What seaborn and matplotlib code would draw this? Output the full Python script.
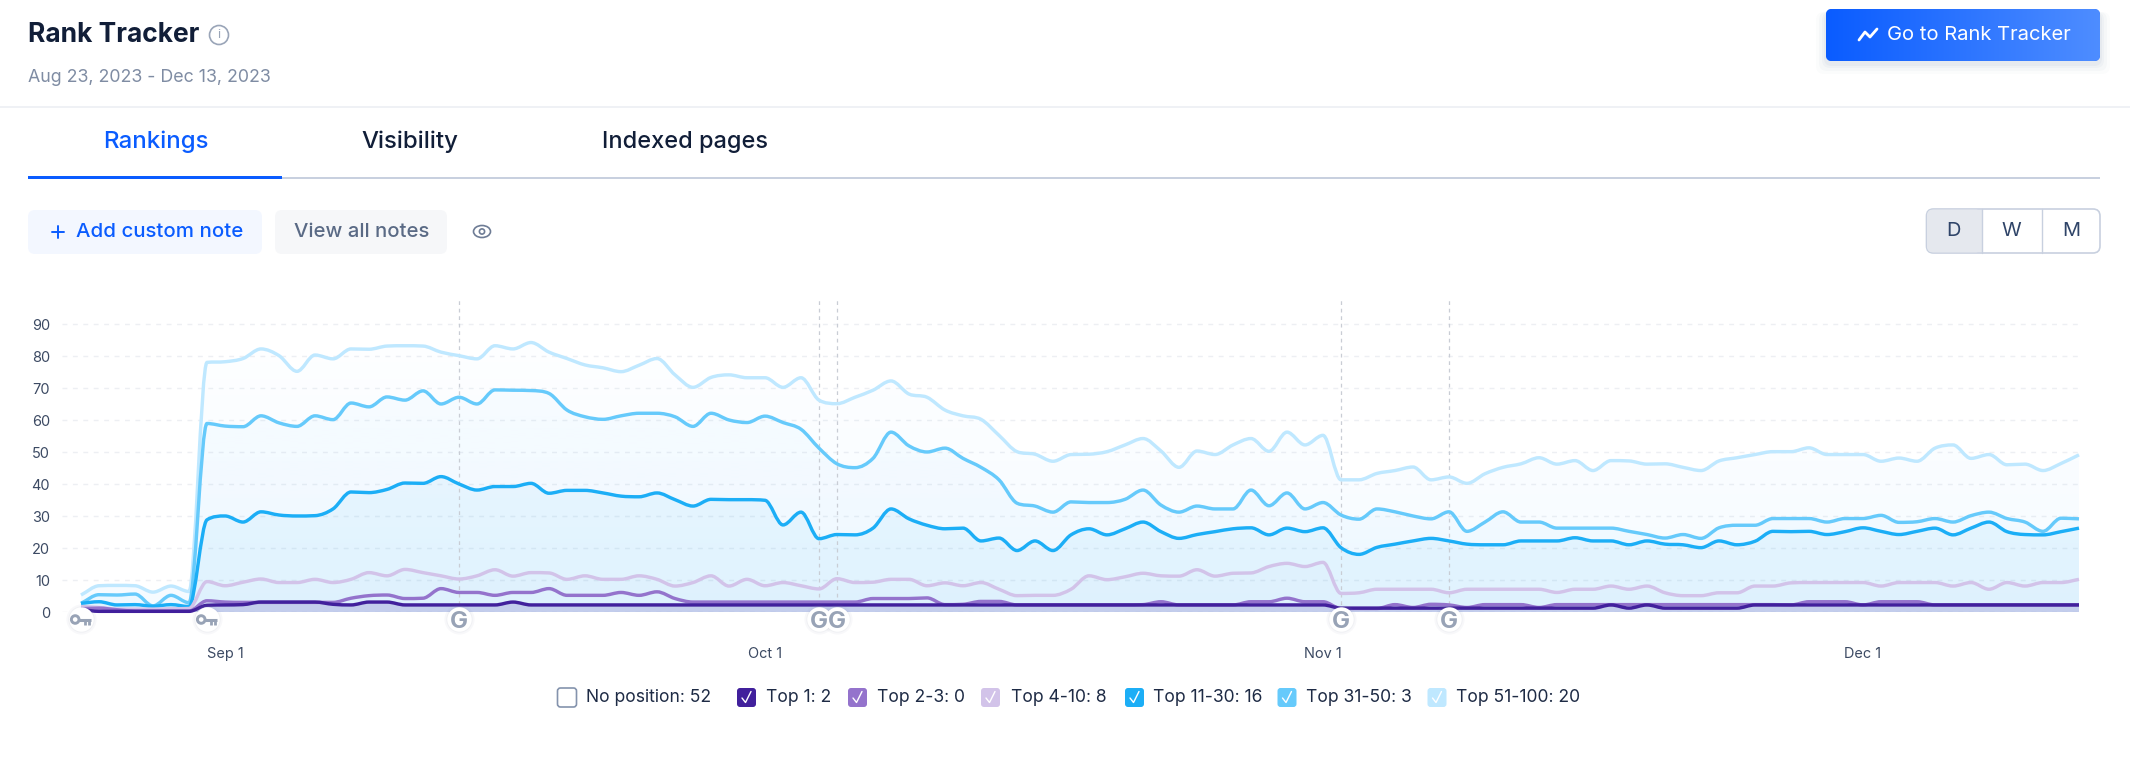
import numpy as np
import pandas as pd
import seaborn as sns
import matplotlib
matplotlib.use("Agg")
import matplotlib.pyplot as plt
import matplotlib.dates as mdates
from matplotlib.patches import FancyBboxPatch, Circle, Rectangle
from matplotlib.path import Path
from matplotlib.patheffects import AbstractPathEffect
from matplotlib.colors import to_rgb

sns.set_theme(style="white")
plt.rcParams['font.family'] = ['Inter', 'DejaVu Sans']

# ---------- data ----------
start_date = "2023-08-24"
top_51_100 = [5.4,8.3,8.4,8.3,6.3,8.2,6.5,78.1,78.3,79.3,82.3,80.2,75.3,80.4,79.2,82.3,82.2,83.2,83.3,
 83.2,81.3,80.2,79.2,83.3,82.3,84.3,81.3,79.3,77.3,76.4,75.2,77.2,79.3,74.2,70.3,73.4,74.2,73.3,
 73.3,70.3,73.3,66.3,65.2,67.2,69.4,72.3,68.2,67.2,63.2,61.4,60.3,55.3,50.2,49.4,47.2,49.3,49.4,
 50.2,52.3,54.3,50.4,45.3,50.4,49.3,52.3,54.3,50.3,56.3,52.3,55.3,41.4,41.4,43.4,44.3,45.4,41.4,
 42.3,40.3,43.3,45.3,46.4,48.3,46.3,47.4,44.3,47.4,47.3,46.3,46.4,45.3,44.3,47.3,48.3,49.3,50.2,
 50.2,51.4,49.3,49.3,49.3,47.2,48.2,47.2,51.3,52.3,48.1,49.3,46.1,46.3,44.3,46.5,49.2]
top_31_50 = [2.8,5.5,5.4,5.7,2.0,5.3,3.0,59.0,58.2,58.0,61.4,59.2,58.1,61.4,60.2,65.4,64.2,67.3,66.3,
 69.2,65.1,67.2,65.1,69.5,69.4,69.3,68.4,63.2,61.1,60.3,61.4,62.2,62.2,61.1,58.1,62.2,60.1,59.3,
 61.3,59.3,57.2,51.3,46.4,45.2,48.1,56.3,52.0,50.1,51.3,48.1,45.3,41.4,34.1,33.2,31.3,34.5,34.3,
 34.3,35.3,38.2,33.5,31.3,33.2,32.3,32.3,38.2,33.3,37.3,32.3,34.3,30.4,29.1,32.3,31.4,30.1,29.2,
 31.4,25.3,28.2,31.4,28.2,28.2,26.3,26.3,26.3,26.3,25.3,24.3,23.2,24.3,23.1,26.4,27.2,27.2,29.3,
 29.3,29.3,28.2,29.3,29.3,30.3,28.1,28.3,29.3,28.2,30.2,31.3,29.3,28.2,25.3,29.4,29.2]
top_11_30 = [2.8,3.3,2.3,2.4,1.9,2.4,1.8,28.9,30.1,28.2,31.4,30.4,30.1,30.2,32.3,37.6,37.4,38.4,40.4,
 40.3,42.4,40.1,38.2,39.3,39.3,40.3,37.2,38.1,38.1,37.3,36.3,36.1,37.3,35.2,33.2,35.3,35.2,35.2,
 35.0,27.3,31.3,23.0,24.3,24.2,26.3,32.3,29.2,27.2,26.1,26.3,22.3,23.2,19.3,22.3,19.3,24.2,26.1,
 24.2,26.1,28.2,25.2,23.1,24.3,25.2,26.1,26.4,24.2,26.3,25.2,26.4,20.2,18.1,20.3,21.3,22.3,23.1,
 22.3,21.3,21.1,21.1,22.3,22.3,22.3,23.3,22.3,22.3,21.1,22.3,21.3,21.1,20.2,22.3,21.1,22.2,25.3,
 25.2,25.3,24.3,25.2,26.4,25.3,24.3,25.3,26.3,24.2,26.3,28.2,25.2,24.3,24.2,25.2,26.3]
top_4_10 = [1.8,1.5,1.0,1.0,1.0,1.1,1.2,9.6,8.3,9.4,10.4,9.3,9.3,10.3,9.3,10.3,12.4,11.4,13.4,
 12.4,11.4,10.4,11.4,13.3,11.3,12.4,12.3,10.3,11.4,10.3,10.3,11.4,10.3,8.2,9.3,11.4,8.2,10.3,
 8.3,9.3,8.3,7.3,10.5,9.3,9.4,10.3,10.3,8.3,9.2,8.3,9.3,7.2,5.2,5.3,5.3,7.2,11.4,
 10.2,11.1,12.2,11.4,11.3,13.3,11.3,12.2,12.3,14.3,15.3,14.3,15.6,5.9,6.1,7.2,7.2,7.2,7.2,
 6.1,7.2,7.2,7.2,7.2,7.2,6.2,7.2,7.2,8.2,7.2,8.2,6.1,5.2,5.2,6.1,6.1,8.2,8.2,
 9.2,9.3,9.3,9.3,9.3,8.2,9.3,9.3,9.3,8.2,9.3,7.2,9.3,8.2,9.3,9.3,10.3]
top_2_3 = [1.1,1.3,0.8,0.4,0.4,0.4,0.4,3.6,3.2,3.1,3.1,3.1,3.1,3.1,3.1,4.4,5.2,5.4,4.3,
 4.4,7.4,6.2,6.2,5.3,6.2,6.2,7.4,5.3,5.3,5.3,6.2,5.3,6.4,4.3,3.2,3.2,3.2,3.2,
 3.2,3.2,3.2,3.2,3.2,3.2,4.3,4.3,4.3,4.5,2.4,2.5,3.4,3.4,2.3,2.3,2.3,2.3,2.3,
 2.3,2.3,2.4,3.3,2.3,2.3,2.3,2.3,3.3,3.3,4.4,3.3,3.3,1.2,1.2,1.2,2.4,1.5,2.5,
 2.3,1.5,2.4,2.4,2.4,1.5,2.4,2.4,2.4,2.4,2.4,2.4,2.4,2.4,2.4,2.4,2.4,2.4,2.4,
 2.3,3.3,3.3,3.3,2.3,3.3,3.3,3.3,2.3,2.3,2.3,2.3,2.3,2.3,2.3,2.3,2.3]
top_1 = [0.9,0.3,0.3,0.3,0.3,0.3,0.3,2.2,2.3,2.4,3.2,3.2,3.2,3.2,2.5,2.3,3.2,3.2,2.3,
 2.3,2.3,2.3,2.3,2.3,3.2,2.3,2.3,2.3,2.3,2.3,2.3,2.3,2.3,2.3,2.3,2.3,2.3,2.3,
 2.3,2.3,2.3,2.3,2.3,2.3,2.3,2.3,2.3,2.3,2.3,2.3,2.3,2.3,2.3,2.3,2.3,2.3,2.3,
 2.3,2.3,2.3,2.3,2.3,2.3,2.3,2.3,2.3,2.3,2.3,2.3,2.3,1.3,1.3,1.3,1.3,1.3,1.3,
 1.3,1.3,1.3,1.3,1.3,1.3,1.3,1.3,1.3,2.3,1.3,2.3,1.3,1.3,1.3,1.3,1.3,2.3,2.3,
 2.3,2.3,2.3,2.3,2.3,2.3,2.3,2.3,2.3,2.3,2.3,2.3,2.3,2.3,2.3,2.3,2.3]

series_names = ["Top 51-100", "Top 31-50", "Top 11-30", "Top 4-10", "Top 2-3", "Top 1"]
series_values = [top_51_100, top_31_50, top_11_30, top_4_10, top_2_3, top_1]
series_colors = ["#BFE8FF", "#66CAFB", "#1CAEF6", "#D2C3E9", "#9473CC", "#41209C"]

legend_labels = ["No position: 52", "Top 1: 2", "Top 2-3: 0", "Top 4-10: 8",
                 "Top 11-30: 16", "Top 31-50: 3", "Top 51-100: 20"]
y_ticks = [0, 10, 20, 30, 40, 50, 60, 70, 80, 90]
x_tick_dates = ["2023-09-01", "2023-10-01", "2023-11-01", "2023-12-01"]
x_tick_labels = ["Sep 1", "Oct 1", "Nov 1", "Dec 1"]
google_dates = ["2023-09-14", "2023-10-04", "2023-10-05", "2023-11-02", "2023-11-08"]
key_dates = ["2023-08-24", "2023-08-31"]

dates = pd.date_range(start_date, periods=len(top_1), freq="D")
long_df = pd.concat([pd.DataFrame({"date": dates, "rank": v, "group": n})
                     for n, v in zip(series_names, series_values)], ignore_index=True)


class SmoothCurve(AbstractPathEffect):
    """Render a line's own vertices as a limited cubic curve (the chart's line style)."""

    def draw_path(self, renderer, gc, tpath, affine, rgbFace=None):
        v = tpath.vertices
        if len(v) < 3:
            renderer.draw_path(gc, tpath, affine, rgbFace)
            return
        dx = np.diff(v[:, 0])
        s = np.diff(v[:, 1]) / dx
        m = np.zeros(len(v))
        a, b = s[:-1], s[1:]
        same = a * b > 0
        lim = 3 * np.minimum(np.abs(a), np.abs(b))
        m[1:-1][same] = (np.sign(a) * np.minimum(np.abs(a + b) / 2, lim))[same]
        m[0], m[-1] = s[0], s[-1]
        verts, codes = [v[0]], [Path.MOVETO]
        for i in range(len(v) - 1):
            h = dx[i] / 3
            verts += [(v[i, 0] + h, v[i, 1] + m[i] * h),
                      (v[i + 1, 0] - h, v[i + 1, 1] - m[i + 1] * h), v[i + 1]]
            codes += [Path.CURVE4] * 3
        gc0 = renderer.new_gc()
        gc0.copy_properties(gc)
        renderer.draw_path(gc0, Path(np.array(verts), codes, _interpolation_steps=1), affine, None)
        gc0.restore()


# ---------- figure ----------
W, H = 2130, 758
fig = plt.figure(figsize=(W / 100, H / 100), dpi=100, facecolor="white")
PX = 0.72

ax_l, ax_r, ax_t, ax_b = 62, 2079, 297, 612.3
ax = fig.add_axes([ax_l / W, 1 - ax_b / H, (ax_r - ax_l) / W, (ax_b - ax_t) / H])
ax.set_facecolor("none")
x_end = mdates.date2num(dates[-1])
x_per_px = 1 / 18.0
x_lim = (x_end - (ax_r - ax_l) * x_per_px, x_end)
y_lim = (0, (ax_b - ax_t) / 3.2)


def grad_fill(values, color, a_top, a_bottom, z):
    poly = ax.fill_between(dates, values, 0, facecolor="none", edgecolor="none")
    n = 256
    img = np.zeros((n, 1, 4))
    img[..., :3] = to_rgb(color)
    img[:, 0, 3] = np.linspace(a_bottom, a_top, n)
    im = ax.imshow(img, extent=[*x_lim, *y_lim], origin="lower", aspect="auto",
                   zorder=z, interpolation="bilinear")
    im.set_clip_path(poly.get_paths()[0], ax.transData)


grad_fill(top_51_100, "#7CCBFF", 0.0, 0.075, 1.0)
grad_fill(top_31_50, "#4FBEFF", 0.02, 0.05, 1.1)
grad_fill(top_11_30, "#1CAEF6", 0.06, 0.06, 1.2)
grad_fill(top_4_10, "#9FB0EE", 0.03, 0.03, 1.3)
grad_fill(top_1, "#41209C", 0.17, 0.17, 1.4)

sns.lineplot(data=long_df, x="date", y="rank", hue="group", hue_order=series_names,
             palette=dict(zip(series_names, series_colors)), estimator=None,
             legend=False, linewidth=3.4 * PX, ax=ax, zorder=3)
for ln in ax.get_lines():
    ln.set_solid_joinstyle("round")
    ln.set_solid_capstyle("butt")
    ln.set_clip_on(False)
    ln.set_path_effects([SmoothCurve()])

ax.set_xlim(*x_lim)
ax.set_ylim(*y_lim)
ax.set_xlabel("")
ax.set_ylabel("")
for s in ax.spines.values():
    s.set_visible(False)
ax.set_yticks(y_ticks)
ax.set_xticks([mdates.date2num(pd.Timestamp(d)) for d in x_tick_dates])
ax.set_xticklabels(x_tick_labels)
ax.tick_params(axis="y", length=0, pad=12 * PX, labelsize=14.5 * PX, labelcolor="#3C4A63")
ax.tick_params(axis="x", length=0, pad=35 * PX, labelsize=14.5 * PX, labelcolor="#3C4A63")
ax.grid(axis="y", color="#EDEFF3", linewidth=1.0, linestyle=(0, (3.5, 4)), zorder=0)
ax.grid(axis="x", visible=False)
ax.set_axisbelow(True)

for d in google_dates:
    ax.axvline(pd.Timestamp(d), color="#C9CDD5", linewidth=0.9, linestyle=(0, (3, 3)), zorder=2)

marker_y = -2.2
marker_dates = [pd.Timestamp(d) for d in key_dates + google_dates]
ax.scatter(marker_dates, [marker_y] * len(marker_dates), s=470, c="#8C98AD", alpha=0.06,
           linewidths=0, clip_on=False, zorder=4)
ax.scatter(marker_dates, [marker_y] * len(marker_dates), s=360, c="#8C98AD", alpha=0.08,
           linewidths=0, clip_on=False, zorder=4.1)
ax.scatter(marker_dates, [marker_y] * len(marker_dates), s=310, c="white",
           linewidths=0, clip_on=False, zorder=5)
for d in google_dates:
    ax.text(pd.Timestamp(d), marker_y, "G", ha="center", va="center_baseline", color="#98A3B6",
            fontsize=24 * PX, fontweight="bold", clip_on=False, zorder=6)

# ---------- page furniture in pixel space ----------
ui = fig.add_axes([0, 0, 1, 1], zorder=10)
ui.set_xlim(0, W)
ui.set_ylim(H, 0)
ui.axis("off")
ui.patch.set_alpha(0)


def rbox(x0, y0, x1, y1, fc, ec="none", r=7, lw=1.0, z=2, alpha=None):
    p = FancyBboxPatch((x0 + r, y0 + r), x1 - x0 - 2 * r, y1 - y0 - 2 * r,
                       boxstyle=f"round,pad={r},rounding_size={r}", fc=fc, ec=ec, lw=lw,
                       zorder=z, alpha=alpha)
    ui.add_patch(p)
    return p


def txt(x, y, s, size, color, ha="left", weight="normal", z=5):
    return ui.text(x, y, s, fontsize=size * PX, color=color, ha=ha, va="center",
                   fontweight=weight, zorder=z)


# key icons over the white markers
for d in key_dates:
    cx = 80.7 + 18 * (pd.Timestamp(d) - dates[0]).days
    cy = 620.5
    ui.add_patch(Circle((cx - 5.5, cy - 1), 3.8, fc="none", ec="#98A3B6", lw=2.1))
    ui.plot([cx - 2, cx + 10], [cy - 1, cy - 1], color="#98A3B6", lw=2.2, solid_capstyle="butt")
    ui.plot([cx + 4, cx + 4], [cy - 1, cy + 4], color="#98A3B6", lw=2.0, solid_capstyle="butt")
    ui.plot([cx + 8.5, cx + 8.5], [cy - 1, cy + 4], color="#98A3B6", lw=2.0, solid_capstyle="butt")

# header
txt(28.5, 35, "Rank Tracker", 26.4, "#111E38", weight="bold")
ui.add_patch(Circle((219, 35), 9.5, fc="none", ec="#9AA5B8", lw=1.2))
txt(219, 35, "i", 13, "#9AA5B8", ha="center")
txt(28.5, 78, "Aug 23, 2023 - Dec 13, 2023", 17.8, "#7F8CA3")
ui.add_patch(Rectangle((0, 105.5), W, 2, fc="#EFF1F5", ec="none"))

# Go button with shadow and gradient
for grow, a in zip([10, 7, 4, 2], [0.02, 0.03, 0.04, 0.05]):
    rbox(1826 - grow, 9 + 3, 2100 + grow, 61 + grow + 3, "#5A6F96", r=8, z=1, alpha=a)
btn = rbox(1826, 9, 2100, 61, "#0A5CFF", r=6, z=2)
grad = np.linspace(0, 1, 256)[None, :, None] * (np.array(to_rgb("#4E8DFF")) - np.array(to_rgb("#0A5CFF")))[None, None, :] + np.array(to_rgb("#0A5CFF"))[None, None, :]
im = ui.imshow(grad, extent=[1826, 2100, 61, 9], aspect="auto", zorder=3)
im.set_clip_path(btn)
ui.set_xlim(0, W)
ui.set_ylim(H, 0)
ui.plot([1859, 1865, 1870, 1877], [40, 32, 37, 29], color="white", lw=2.0,
        solid_joinstyle="round", solid_capstyle="round", zorder=5)
txt(1887, 35, "Go to Rank Tracker", 20.2, "white")

# tabs
txt(156, 142, "Rankings", 24, "#0A5CFF", ha="center", weight="medium")
txt(410, 142, "Visibility", 24, "#111E38", ha="center", weight="medium")
txt(684.5, 142, "Indexed pages", 23.5, "#111E38", ha="center", weight="medium")
ui.add_patch(Rectangle((282, 177), 2100 - 282, 1.6, fc="#C8D0DF", ec="none"))
ui.add_patch(Rectangle((28, 175.5), 254, 3.2, fc="#0A5CFF", ec="none"))

# note buttons
rbox(28, 210, 262, 254, "#F3F7FF")
ui.plot([52, 64], [232, 232], color="#0A5CFF", lw=1.4)
ui.plot([58, 58], [226, 238], color="#0A5CFF", lw=1.4)
txt(76, 232, "Add custom note", 20.4, "#0A5CFF", weight="medium")
rbox(275, 210, 447, 254, "#F6F7F9")
txt(294, 232, "View all notes", 20.3, "#5A6A85", weight="medium")
ui.add_patch(matplotlib.patches.Ellipse((482, 231.5), 17, 12, fc="none", ec="#6E7C95", lw=1.2))
ui.add_patch(Circle((482, 231.5), 2.6, fc="none", ec="#6E7C95", lw=1.2))

# D W M switch
rbox(1926.5, 209, 2100, 253, "white", ec="#C8D0DF", r=7, lw=1.2, z=2)
rbox(1927, 209.6, 1981.5, 252.4, "#E5E8EE", r=6, z=2.5)
ui.add_patch(Rectangle((1975, 209.6), 6.5, 42.8, fc="#E5E8EE", ec="none", zorder=2.5))
ui.plot([1981.5, 1981.5], [209, 253], color="#C8D0DF", lw=1.0, zorder=3)
ui.plot([2042, 2042], [209, 253], color="#C8D0DF", lw=1.0, zorder=3)
for xc, s in zip([1954, 2011, 2071], ["D", "W", "M"]):
    txt(xc, 230.5, s, 20, "#2F4468", ha="center")

# legend row
box_left = [557.5, 737, 848, 981, 1125, 1277.5, 1427.5]
label_left = [586, 766, 877, 1011, 1153, 1306, 1455.6]
box_color = [None, "#41209C", "#9473CC", "#D2C3E9", "#1CAEF6", "#66CAFB", "#BFE8FF"]
ly = 697.5
for bx, tx, c, s in zip(box_left, label_left, box_color, legend_labels):
    if c is None:
        rbox(bx, ly - 9.5, bx + 19, ly + 9.5, "white", ec="#8493AD", r=3, lw=1.2)
    else:
        rbox(bx, ly - 9.5, bx + 19, ly + 9.5, c, r=3)
        ui.plot([bx + 5, bx + 8.5, bx + 14], [ly + 0.5, ly + 5, ly - 6], color="white", lw=1.0, zorder=4)
    txt(tx, ly, s, 17.5, "#1E2B45")

fig.savefig("out.png", dpi=100, facecolor="white")
